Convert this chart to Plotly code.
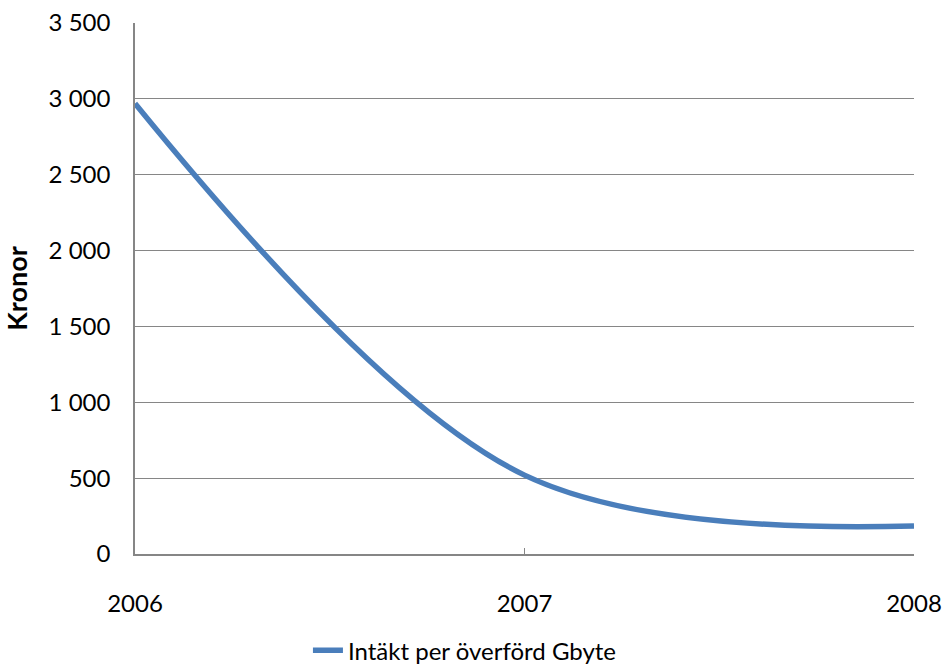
import plotly.graph_objects as go

years = [2006, 2007, 2008]
values = [2970, 520, 185]
series_name = "Intäkt per överförd Gbyte"
y_ticks = [0, 500, 1000, 1500, 2000, 2500, 3000, 3500]
y_tick_labels = ["0", "500", "1 000", "1 500", "2 000", "2 500", "3 000", "3 500"]
x_ticks = [2006, 2007, 2008]

FONT = "Lato, Carlito, Calibri, sans-serif"

fig = go.Figure()
fig.add_trace(go.Scatter(
    x=years, y=values, mode="lines", name=series_name,
    line=dict(color="#4A7EBB", width=5.5, shape="spline", smoothing=1.0),
    showlegend=True, cliponaxis=False,
))

fig.update_layout(
    width=945, height=667,
    margin=dict(l=135, r=31, t=23, b=113, autoexpand=False),
    paper_bgcolor="white", plot_bgcolor="white",
    font=dict(family=FONT, size=24, color="black"),
    showlegend=True,
    legend=dict(orientation="h", x=0.222, xanchor="left", y=-0.182, yanchor="middle",
                font=dict(size=24), itemwidth=30),
)
fig.update_xaxes(
    range=[2006, 2008], tickvals=x_ticks, ticktext=[str(v) for v in x_ticks],
    showgrid=False, showline=True, linecolor="#868686", linewidth=1.5,
    ticks="inside", ticklen=6, tickcolor="#868686", zeroline=False,
    ticklabelstandoff=27, automargin=False,
)
fig.update_yaxes(
    range=[0, 3500], tickvals=y_ticks, ticktext=y_tick_labels,
    showgrid=True, gridcolor="#868686", gridwidth=1,
    showline=True, linecolor="#868686", linewidth=1.5, zeroline=False,
    ticks="", ticklabelstandoff=18, automargin=False,
    title=dict(text="<b>Kronor</b>", font=dict(size=27), standoff=18),
)
fig.write_html("out.html")
